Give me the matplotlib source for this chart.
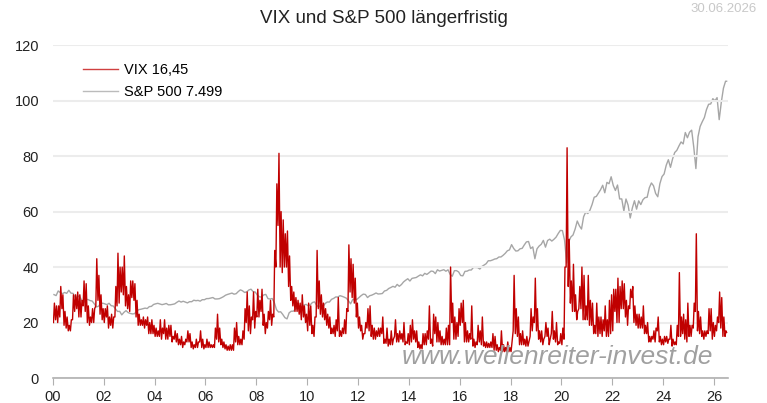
import matplotlib
matplotlib.use("Agg")
import matplotlib.pyplot as plt
import numpy as np

# VIX: monthly low / high (Jan 2000 - Jun 2026)
vix_low = [
    20, 21, 20, 22, 25, 19, 18, 17, 17, 21, 24, 25,        # 2000
    22, 22, 26, 24, 20, 19, 20, 20, 26, 28, 23, 21,        # 2001
    20, 22, 18, 19, 18, 22, 26, 27, 31, 30, 26, 25,        # 2002
    24, 29, 28, 22, 19, 19, 19, 18, 19, 16, 16, 16,        # 2003
    15, 15, 15, 14, 16, 14, 14, 15, 13, 14, 13, 12,        # 2004
    12, 11, 12, 13, 13, 11, 10.5, 11, 11, 13, 11, 10.5,    # 2005
    11, 11, 11, 11, 11, 14, 13, 12, 11, 10.5, 10, 10,      # 2006
    10, 10, 13, 12, 12, 12, 14, 20, 17, 16, 21, 18,        # 2007
    22, 22, 24, 19, 16, 18, 21, 19, 22, 40, 55, 40,        # 2008
    38, 40, 40, 33, 28, 26, 24, 24, 23, 21, 22, 20,        # 2009
    17, 19, 16, 15, 22, 25, 23, 22, 21, 19, 18, 16,        # 2010
    16, 15, 17, 15, 15, 16, 16, 24, 31, 29, 27, 22,        # 2011
    18, 17, 14, 16, 18, 17, 15, 14, 14, 15, 15, 16,        # 2012
    12.5, 12.5, 11.5, 12, 12, 15, 13, 13, 14, 13, 12, 12.5,  # 2013
    12, 13, 14, 13, 11, 10.5, 10.5, 12, 12, 14, 12.5, 11.5,  # 2014
    16, 13, 13, 12, 12, 12, 12, 12, 20, 14, 14, 15,        # 2015
    19, 20, 13, 13, 13, 14, 11.5, 11, 12, 13, 12, 11.5,    # 2016
    11, 11, 11, 11, 10, 10, 9.5, 10, 9.5, 9.5, 9.5, 9.5,   # 2017
    9.5, 17, 16, 15, 12, 12, 12, 11.5, 11.5, 15, 17, 20,   # 2018
    17, 14, 13, 12, 15, 15, 12, 16, 14, 13, 12, 12.5,      # 2019
    12, 14, 40, 33, 27, 24, 24, 21, 25, 25, 21, 21,        # 2020
    21, 19, 19, 16, 16, 15, 16, 15, 17, 15, 15, 16,        # 2021
    17, 24, 20, 20, 25, 25, 22, 19, 25, 29, 20, 19,        # 2022
    18, 18, 18, 16, 16, 13, 13, 14, 13, 17, 13, 12,        # 2023
    12, 13, 12.5, 14, 11.5, 12, 12, 15, 15, 16, 14, 13,    # 2024
    15, 15, 18, 24, 17, 16, 15, 14, 15, 16, 17, 14,        # 2025
    15, 17, 20, 18, 15, 15,                                # 2026
]
vix_high = [
    27, 26, 26, 33, 30, 24, 22, 19, 21, 30, 30, 31,        # 2000
    30, 28, 35, 34, 26, 22, 25, 25, 43, 37, 30, 25,        # 2001
    25, 26, 22, 23, 22, 33, 45, 40, 40, 44, 33, 30,        # 2002
    35, 35, 34, 28, 23, 21, 22, 21, 22, 20, 21, 19,        # 2003
    18, 17, 21, 18, 21, 18, 19, 19, 15, 17, 16, 14,        # 2004
    15, 13, 14, 17, 16, 13, 12, 14, 13, 17, 14, 12,        # 2005
    14, 13, 12, 12, 18, 23, 18, 14, 13, 12, 11.5, 12,      # 2006
    12, 18, 20, 15, 14, 17, 25, 31, 26, 22, 31, 24,        # 2007
    32, 28, 32, 23, 20, 24, 28, 23, 46, 70, 81, 60,        # 2008
    57, 52, 53, 44, 33, 31, 29, 28, 27, 30, 26, 23,        # 2009
    27, 26, 19, 22, 46, 35, 30, 27, 25, 23, 22, 18,        # 2010
    19, 21, 29, 17, 18, 21, 25, 48, 43, 41, 36, 27,        # 2011
    22, 19, 16, 20, 25, 26, 19, 18, 17, 18, 18, 22,        # 2012
    14, 18, 14, 17, 14, 21, 16, 17, 16, 20, 13, 16,        # 2013
    19, 21, 17, 17, 13, 12, 16, 16, 17, 26, 14, 23,        # 2014
    22, 20, 17, 15, 14, 18, 19, 40, 27, 22, 20, 25,        # 2015
    27, 28, 20, 17, 16, 26, 14, 13, 19, 17, 22, 13,        # 2016
    13, 12.5, 13, 16, 15, 12, 11, 17, 12, 11, 13, 11,      # 2017
    13, 37, 25, 22, 16, 17, 14, 15, 13, 25, 22, 36,        # 2018
    25, 17, 17, 14, 20, 18, 14, 24, 17, 20, 13, 16,        # 2019
    18, 40, 83, 50, 35, 41, 30, 24, 33, 40, 37, 26,        # 2020
    37, 28, 27, 19, 27, 22, 22, 21, 26, 21, 28, 30,        # 2021
    32, 32, 36, 33, 35, 34, 28, 26, 32, 33, 26, 23,        # 2022
    23, 22, 26, 19, 20, 15, 15, 17, 18, 22, 15, 14,        # 2023
    15, 15, 14, 19, 14, 13, 19, 38, 22, 23, 21, 27,        # 2024
    19, 19, 27, 52, 24, 22, 17, 17, 17, 25, 25, 20,        # 2025
    19, 22, 31, 29, 22, 17,                                # 2026
]
vix_last = 16.45

# S&P 500 monthly closes (Jan 2000 - Jun 2026)
spx = [
    1394, 1366, 1499, 1452, 1421, 1455, 1431, 1518, 1437, 1429, 1315, 1320,
    1366, 1240, 1160, 1249, 1256, 1224, 1211, 1134, 1041, 1060, 1139, 1148,
    1130, 1107, 1147, 1077, 1067, 990, 912, 916, 815, 886, 936, 880,
    856, 841, 848, 917, 964, 975, 990, 1008, 996, 1051, 1058, 1112,
    1131, 1145, 1126, 1107, 1121, 1141, 1102, 1104, 1115, 1130, 1174, 1212,
    1181, 1204, 1181, 1157, 1192, 1191, 1234, 1220, 1229, 1207, 1249, 1248,
    1280, 1281, 1295, 1311, 1270, 1270, 1277, 1304, 1336, 1378, 1401, 1418,
    1438, 1407, 1421, 1482, 1531, 1503, 1455, 1474, 1527, 1549, 1481, 1468,
    1379, 1331, 1323, 1386, 1400, 1280, 1267, 1283, 1166, 969, 896, 903,
    826, 735, 700, 873, 919, 919, 987, 1021, 1057, 1036, 1096, 1115,
    1074, 1104, 1169, 1187, 1089, 1031, 1102, 1049, 1141, 1183, 1181, 1258,
    1286, 1327, 1326, 1364, 1345, 1321, 1292, 1219, 1131, 1253, 1247, 1258,
    1312, 1366, 1408, 1398, 1310, 1362, 1379, 1407, 1441, 1412, 1416, 1426,
    1498, 1515, 1569, 1598, 1631, 1606, 1686, 1633, 1682, 1757, 1806, 1848,
    1783, 1859, 1872, 1884, 1924, 1960, 1931, 2003, 1972, 2018, 2068, 2059,
    1995, 2105, 2068, 2086, 2107, 2063, 2104, 1972, 1920, 2079, 2080, 2044,
    1940, 1932, 2060, 2065, 2097, 2099, 2174, 2171, 2168, 2126, 2199, 2239,
    2279, 2364, 2363, 2384, 2412, 2423, 2470, 2472, 2519, 2575, 2648, 2674,
    2824, 2714, 2641, 2648, 2705, 2718, 2816, 2902, 2914, 2712, 2760, 2420,
    2704, 2784, 2834, 2946, 2752, 2942, 2980, 2926, 2977, 3038, 3141, 3231,
    3226, 2954, 2300, 2912, 3044, 3100, 3271, 3500, 3363, 3270, 3622, 3756,
    3714, 3811, 3973, 4181, 4204, 4298, 4395, 4523, 4308, 4605, 4567, 4766,
    4516, 4374, 4530, 4132, 4132, 3785, 4130, 3955, 3586, 3872, 4080, 3840,
    4077, 3970, 4109, 4169, 4180, 4450, 4589, 4508, 4288, 4194, 4568, 4770,
    4846, 5096, 5254, 5036, 5278, 5460, 5522, 5648, 5762, 5705, 6032, 5882,
    6041, 6100, 5612, 5000, 5912, 6205, 6339, 6460, 6688, 6840, 6849, 7000,
    6940, 7030, 6400, 6900, 7300, 7499,
]
spx_last = 7499

# interleave monthly lows/highs into one series
n = len(vix_low)
vix_t, vix_v = [], []
for i in range(n):
    vix_t += [2000 + (i + 0.25) / 12, 2000 + (i + 0.7) / 12]
    vix_v += [vix_low[i], vix_high[i]]
vix_t.append(2026.5)
vix_v.append(vix_last)

spx_t = [2000 + (i + 0.5) / 12 for i in range(len(spx))]
spx_t.append(2026.5)
spx_v = spx + [spx_last]

plt.rcParams['font.family'] = ['Liberation Sans', 'DejaVu Sans']

fig = plt.figure(figsize=(7.67, 4.03), dpi=100)
ax = fig.add_axes([0.069, 0.062, 0.880, 0.826])
ax2 = ax.twinx()

ax2.plot(spx_t, spx_v, color='#a6a6a6', lw=1.0)
ax2.set_ylim(-992, 8532)
ax2.axis('off')

ax.set_zorder(ax2.get_zorder() + 1)
ax.patch.set_visible(False)
ax.plot(vix_t, vix_v, color='#c00000', lw=1.0)

ax.set_xlim(2000, 2026.55)
ax.set_ylim(0, 120)
ax.set_yticks(range(0, 121, 20))
ax.set_xticks(range(2000, 2027, 2))
ax.set_xticklabels([f"{y % 100:02d}" for y in range(2000, 2027, 2)])
ax.grid(axis='y', color='#ececec', lw=1.5)
ax.set_axisbelow(True)
for s in ['top', 'right', 'left']:
    ax.spines[s].set_visible(False)
ax.spines['bottom'].set_color('#b0b0b0')
ax.spines['bottom'].set_linewidth(1.2)
ax.tick_params(axis='y', length=0, labelsize=10.5, pad=10, colors='#222222')
ax.tick_params(axis='x', length=5, color='#b0b0b0', labelsize=10.5, colors='#222222')

# legend
h1, = ax.plot([], [], color='#d04040', lw=1.0)
h2, = ax.plot([], [], color='#bbbbbb', lw=1.0)
ax.legend([h1, h2], ['VIX 16,45', 'S&P 500 7.499'], loc='upper left',
          bbox_to_anchor=(0.025, 0.985), frameon=False, fontsize=10.5,
          handlelength=2.4, handletextpad=0.4, labelspacing=0.55)

fig.text(0.5, 0.955, 'VIX und S&P 500 längerfristig', ha='center', va='center',
         fontsize=13.5, color='#222222')
fig.text(0.987, 0.978, '30.06.2026', ha='right', va='center', fontsize=9.5,
         color='#c8c8c8')
ax.text(0.978, 0.063, 'www.wellenreiter-invest.de', transform=ax.transAxes,
        ha='right', va='center', fontsize=19, style='italic', color='#a0a0a0')

fig.savefig('out.png', dpi=100)
